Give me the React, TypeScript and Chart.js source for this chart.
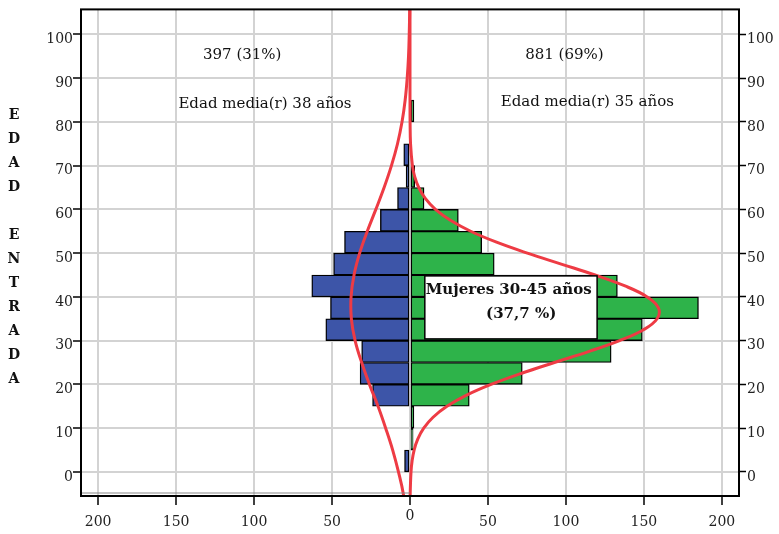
import React, { useEffect, useRef } from "react";
import { Chart, registerables } from "chart.js";

Chart.register(...registerables);

// ---- Data ----
const binStarts = [0, 5, 10, 15, 20, 25, 30, 35, 40, 45, 50, 55, 60, 65, 70, 75, 80];
const hombres = [3.5, 0, 0, 24, 32, 31, 54, 51, 63, 49, 42, 19, 8, 2.5, 4, 0, 0];
const mujeres = [0, 2, 2.5, 38, 72, 129, 149, 185, 133, 54, 46, 31, 9, 3, 0, 0, 2.5];

const curveAgesH = [-10, -5, 0, 5, 10, 15, 20, 25, 30, 35, 40, 45, 50, 55, 60, 65, 70, 75, 80, 85, 90, 95, 100, 105, 110];
const curveH = [2.8, 4.3, 7.4, 11.1, 15.6, 20.5, 26, 31, 35.2, 37.6, 37.8, 35.9, 32.3, 27.4, 21.9, 16.6, 11.9, 8.0, 5.1, 3.1, 1.8, 0.95, 0.5, 0.23, 0.1];

const curveAgesM = [-10, -5, 0, 2.5, 5, 7.5, 10, 12.5, 15, 17.5, 20, 22.5, 25, 27.5, 30, 32.5, 35, 37.5, 40, 42.5, 45, 47.5, 50, 52.5, 55, 57.5, 60, 62.5, 65, 67.5, 70, 75, 80, 85, 90, 95, 100, 105, 110];
const curveM = [0.02, 0.13, 0.65, 1.34, 2.65, 4.96, 8.8, 14.8, 23.7, 36, 52, 71.2, 92.6, 114.5, 134.4, 149.8, 158.5, 159.3, 152.1, 137.9, 118.7, 97, 75.3, 55.5, 38.9, 25.9, 16.3, 9.8, 5.6, 3.0, 1.55, 0.35, 0.06, 0, 0, 0, 0, 0, 0];

const annotTexts = ["397 (31%)", "Edad media(r) 38 años", "881 (69%)", "Edad media(r) 35 años"];
const boxLines = ["Mujeres 30-45 años", "(37,7 %)"];
const yTitleLetters = ["E", "D", "A", "D", "", "E", "N", "T", "R", "A", "D", "A"];

// ---- Layout (positions in data units) ----
const annotPos = [
  [-107.6, 95.2],
  [-93, 84.1],
  [99, 95.2],
  [113.7, 84.5],
];
const boxRange = { x0: 9.5, x1: 120, y0: 30.4, y1: 44.8 };
const boxTextPos = [
  [63.3, 41.6],
  [71.3, 36.0],
];

const SERIF = "'DejaVu Serif', serif";
const BLUE = "#3d55a8";
const GREEN = "#2eb34a";
const RED = "#ee3b44";
const GRID = "#d3d3d3";

const overlayPlugin = {
  id: "overlay",
  afterDatasetsDraw(chart: any) {
    const { ctx, chartArea } = chart;
    const xs = chart.scales.x;
    const ys = chart.scales.y;
    ctx.save();
    // faint double line along bottom-left
    ctx.strokeStyle = "#888";
    ctx.lineWidth = 1;
    ctx.beginPath();
    ctx.moveTo(chartArea.left, chartArea.bottom - 3);
    ctx.lineTo(xs.getPixelForValue(0), chartArea.bottom - 3);
    ctx.stroke();

    // annotations
    ctx.fillStyle = "#111";
    ctx.font = `15px ${SERIF}`;
    ctx.textAlign = "center";
    ctx.textBaseline = "middle";
    annotTexts.forEach((t, i) => {
      ctx.fillText(t, xs.getPixelForValue(annotPos[i][0]), ys.getPixelForValue(annotPos[i][1]));
    });

    // Mujeres box
    const bx0 = xs.getPixelForValue(boxRange.x0);
    const bx1 = xs.getPixelForValue(boxRange.x1);
    const by0 = ys.getPixelForValue(boxRange.y1);
    const by1 = ys.getPixelForValue(boxRange.y0);
    ctx.fillStyle = "#fff";
    ctx.fillRect(bx0, by0, bx1 - bx0, by1 - by0);
    ctx.strokeStyle = "#000";
    ctx.lineWidth = 1.5;
    ctx.strokeRect(bx0, by0, bx1 - bx0, by1 - by0);
    ctx.fillStyle = "#111";
    ctx.font = `bold 15px ${SERIF}`;
    boxLines.forEach((t, i) => {
      ctx.fillText(t, xs.getPixelForValue(boxTextPos[i][0]), ys.getPixelForValue(boxTextPos[i][1]));
    });
    ctx.restore();
  },
  afterDraw(chart: any) {
    const { ctx, chartArea } = chart;
    ctx.save();
    ctx.strokeStyle = "#000";
    ctx.lineWidth = 2;
    ctx.strokeRect(chartArea.left, chartArea.top, chartArea.right - chartArea.left, chartArea.bottom - chartArea.top);
    // vertical y title
    ctx.fillStyle = "#111";
    ctx.font = `bold 14px ${SERIF}`;
    ctx.textAlign = "center";
    ctx.textBaseline = "middle";
    yTitleLetters.forEach((l, i) => {
      if (l) ctx.fillText(l, 14, 115 + i * 24);
    });
    ctx.restore();
  },
};

export default function App() {
  const ref = useRef<HTMLCanvasElement | null>(null);
  useEffect(() => {
    if (!ref.current) return;
    const hData = hombres
      .map((v, i) => ({ x: -v, y: binStarts[i] + 2.5 }))
      .filter((d) => d.x !== 0);
    const mData = mujeres
      .map((v, i) => ({ x: v, y: binStarts[i] + 2.5 }))
      .filter((d) => d.x !== 0);
    const lineH = curveAgesH.map((a, i) => ({ x: -curveH[i], y: a }));
    const lineM = curveAgesM.map((a, i) => ({ x: curveM[i], y: a }));

    const tickFont = { family: SERIF, size: 14 };
    const yLimits = { min: -5.5, max: 105.7 };

    const barCommon = {
      type: "bar",
      borderColor: "#000",
      borderWidth: 1.4,
      borderSkipped: false,
      grouped: false,
      categoryPercentage: 1,
      barPercentage: 1,
      order: 2,
      xAxisID: "x",
      yAxisID: "y",
    };
    const lineCommon = {
      type: "line",
      borderColor: RED,
      borderWidth: 3,
      pointRadius: 0,
      tension: 0.4,
      fill: false,
      order: 1,
      xAxisID: "x",
      yAxisID: "y",
    };

    const chart = new Chart(ref.current, {
      type: "bar",
      data: {
        datasets: [
          { ...barCommon, label: "Hombres", data: hData, backgroundColor: BLUE } as any,
          { ...barCommon, label: "Mujeres", data: mData, backgroundColor: GREEN } as any,
          { ...lineCommon, label: "Normal H", data: lineH } as any,
          { ...lineCommon, label: "Normal M", data: lineM } as any,
        ],
      },
      options: {
        animation: false,
        responsive: false,
        indexAxis: "y",
        layout: { padding: { top: 6, left: 0, right: 0, bottom: 0 } },
        plugins: {
          legend: { display: false },
          tooltip: { enabled: false },
        },
        scales: {
          x: {
            type: "linear",
            position: "bottom",
            min: -211,
            max: 211,
            offset: false,
            ticks: {
              stepSize: 50,
              includeBounds: false,
              autoSkip: false,
              maxRotation: 0,
              padding: 8,
              color: "#222",
              font: { family: SERIF, size: 14, lineHeight: "6px" } as any,
              callback: (v: any) => (Number(v) === 0 ? "0" : ["", String(Math.abs(Number(v)))]),
            },
            grid: {
              offset: false,
              color: GRID,
              lineWidth: 2,
              tickColor: "#000",
              tickWidth: 1.5,
              tickLength: 9,
            },
            border: { display: false },
            afterFit: (s: any) => {
              s.height = 38;
            },
          } as any,
          y: {
            type: "linear",
            position: "left",
            ...yLimits,
            offset: false,
            ticks: {
              stepSize: 10,
              includeBounds: false,
              autoSkip: false,
              labelOffset: 5,
              padding: 0,
              color: "#222",
              font: tickFont,
            },
            grid: {
              offset: false,
              color: GRID,
              lineWidth: 2,
              tickColor: "#000",
              tickWidth: 1.5,
              tickLength: 8,
            },
            border: { display: false },
            afterFit: (s: any) => {
              s.width = 81;
            },
          } as any,
          y2: {
            type: "linear",
            position: "right",
            ...yLimits,
            offset: false,
            ticks: {
              stepSize: 10,
              includeBounds: false,
              autoSkip: false,
              labelOffset: 5,
              padding: 1,
              color: "#222",
              font: tickFont,
            },
            grid: {
              offset: false,
              drawOnChartArea: false,
              tickColor: "#000",
              tickWidth: 1.5,
              tickLength: 7,
            },
            border: { display: false },
            afterFit: (s: any) => {
              s.width = 40;
            },
          } as any,
        },
      },
      plugins: [overlayPlugin],
    });
    return () => chart.destroy();
  }, []);

  return (
    <div style={{ position: "absolute", left: 0, top: 0, width: 779, height: 534, background: "#fff" }}>
      <canvas ref={ref} width={779} height={534} style={{ display: "block" }} />
    </div>
  );
}
